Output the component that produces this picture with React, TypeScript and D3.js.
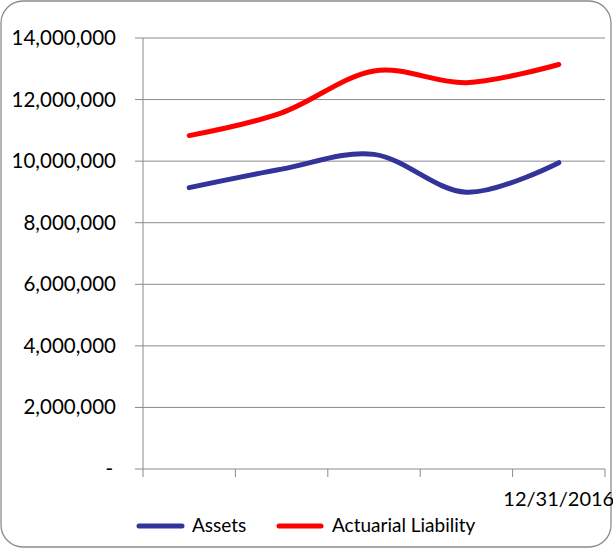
import * as d3 from 'd3';

const categories = ['', '', '', '', '12/31/2016'];
const assets = [9140000, 9740000, 10220000, 8990000, 9950000];
const liability = [10830000, 11570000, 12930000, 12550000, 13140000];
const yTicks = [0, 2000000, 4000000, 6000000, 8000000, 10000000, 12000000, 14000000];
const seriesNames = ['Assets', 'Actuarial Liability'];
const seriesColors = ['#333399', '#FF0000'];

const W = 613;
const H = 548;
const margin = { top: 38, right: 8, bottom: 79, left: 143 };

export default function App() {
  const x = d3.scaleBand<string>()
    .domain(categories.map((_, i) => String(i)))
    .range([margin.left, W - margin.right]);

  const y = d3.scaleLinear()
    .domain([0, 14000000])
    .range([H - margin.bottom, margin.top]);

  const fmt = d3.format(',');

  const line = d3.line<number>()
    .x((_, i) => x(String(i))! + x.bandwidth() / 2)
    .y(d => y(d))
    .curve(d3.curveCardinal.tension(0));

  const series = [assets, liability];
  const font = 'Lato, "Open Sans", sans-serif';
  const y0 = y(0);

  return (
    <svg width={W} height={H} style={{ position: 'absolute', left: 0, top: 0 }}>
      <rect x={1} y={1} width={W - 3} height={H - 2} rx={22} fill="#fff" stroke="#8c8c8c" strokeWidth={1.3} />
      {/* gridlines + y labels */}
      {yTicks.map(t => (
        <g key={t}>
          {t > 0 && (
            <line x1={margin.left - 8} x2={W - margin.right} y1={y(t)} y2={y(t)} stroke="#8a8a8a" strokeWidth={1} />
          )}
          <text x={t === 0 ? 113 : 116} y={y(t) + 7} textAnchor="end" fontFamily={font} fontSize={20.5} fill="#000">
            {t === 0 ? '-' : fmt(t)}
          </text>
        </g>
      ))}
      {/* axes */}
      <line x1={margin.left} x2={margin.left} y1={margin.top} y2={y0 + 8} stroke="#8a8a8a" strokeWidth={1} />
      <line x1={margin.left - 8} x2={W - margin.right} y1={y0} y2={y0} stroke="#8a8a8a" strokeWidth={1} />
      {categories.map((_, i) => (
        <line key={i} x1={x(String(i))! + x.bandwidth()} x2={x(String(i))! + x.bandwidth()} y1={y0} y2={y0 + 8} stroke="#8a8a8a" strokeWidth={1} />
      ))}
      {categories.map((c, i) => (
        <text key={'c' + i} x={x(String(i))! + x.bandwidth() / 2} y={506} textAnchor="middle" fontFamily={font} fontSize={20} fill="#000">
          {c}
        </text>
      ))}
      {/* series */}
      {series.map((s, k) => (
        <path key={k} d={line(s)!} fill="none" stroke={seriesColors[k]} strokeWidth={5} strokeLinecap="round" />
      ))}
      {/* legend */}
      <g>
        <line x1={139} x2={182} y1={526} y2={526} stroke={seriesColors[0]} strokeWidth={5} strokeLinecap="round" />
        <text x={192} y={532} fontFamily={font} fontSize={19} fill="#000">{seriesNames[0]}</text>
        <line x1={279} x2={321} y1={526} y2={526} stroke={seriesColors[1]} strokeWidth={5} strokeLinecap="round" />
        <text x={332} y={532} fontFamily={font} fontSize={19} fill="#000">{seriesNames[1]}</text>
      </g>
    </svg>
  );
}
